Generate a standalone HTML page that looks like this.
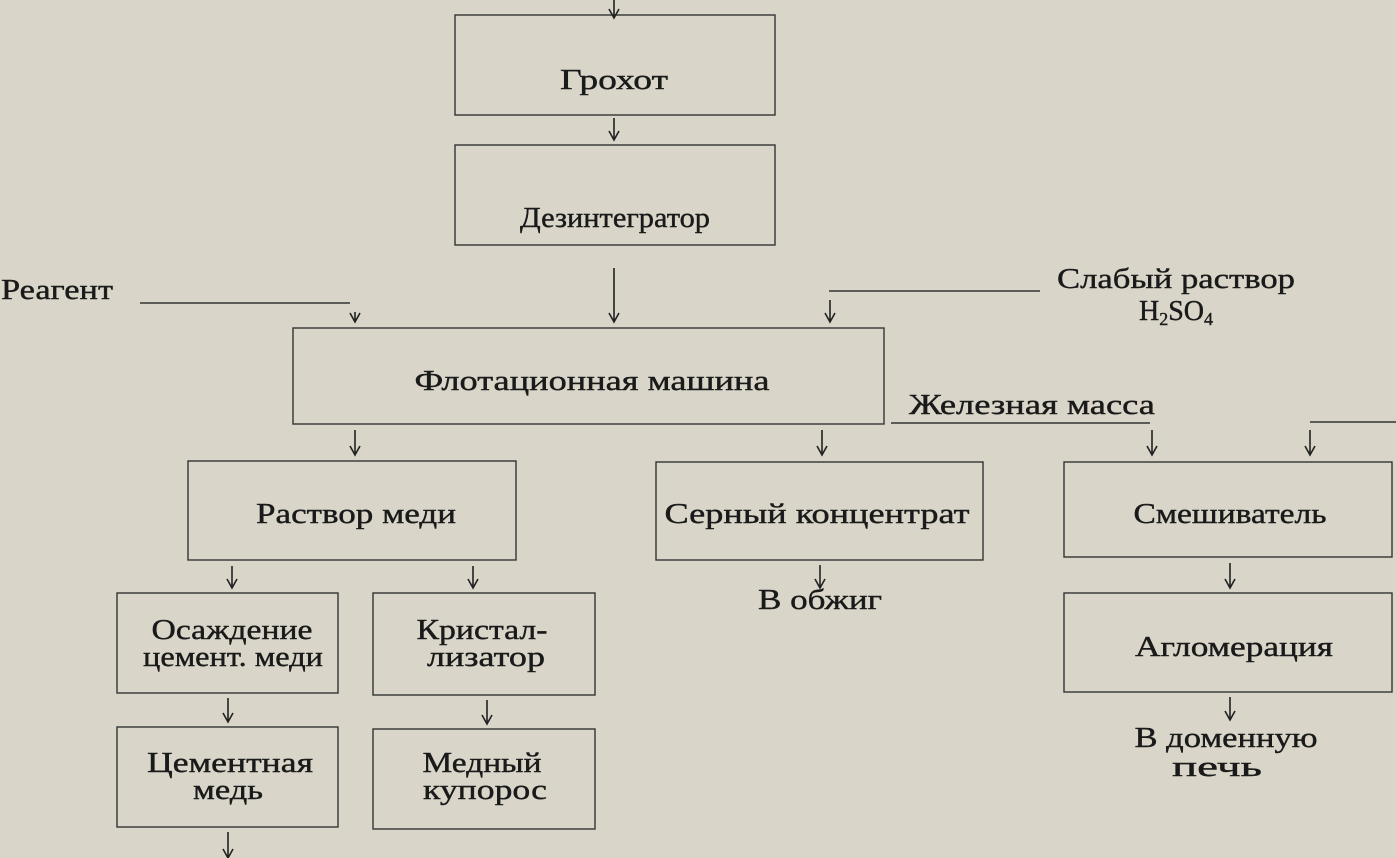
<!DOCTYPE html>
<html><head><meta charset="utf-8"><style>
html,body{margin:0;padding:0;background:#d9d6c9;}
svg{display:block}
text{font-family:"Liberation Serif",serif;font-size:28px;fill:#1a1a1a;stroke:#1a1a1a;stroke-width:0.4;text-anchor:middle}
</style></head><body>
<svg width="1396" height="858" viewBox="0 0 1396 858" xmlns="http://www.w3.org/2000/svg">
<rect width="1396" height="858" fill="#d9d6c9"/>
<g stroke="#333" stroke-width="1.4" fill="none">
<rect x="455" y="15" width="320" height="100"/>
<rect x="455" y="145" width="320" height="100"/>
<rect x="293" y="328" width="591" height="96"/>
<rect x="188" y="461" width="328" height="99"/>
<rect x="656" y="462" width="327" height="98"/>
<rect x="1064" y="462" width="328" height="95"/>
<rect x="1064" y="593" width="328" height="99"/>
<rect x="117" y="593" width="221" height="100"/>
<rect x="373" y="593" width="222" height="102"/>
<rect x="117" y="727" width="221" height="100"/>
<rect x="373" y="729" width="222" height="100"/>
<line x1="140" y1="303" x2="350" y2="303"/>
<line x1="829" y1="291" x2="1040" y2="291"/>
<line x1="891" y1="423" x2="1150" y2="423"/>
<line x1="1310" y1="422" x2="1396" y2="422"/>
</g>
<g stroke="#222" stroke-width="1.6" fill="none">
<path d="M614 0V18 M609 9L614 18L619 9"/>
<path d="M614 118V140 M609 131L614 140L619 131"/>
<path d="M355 312V322 M350 313L355 322L360 313"/>
<path d="M614 268V322 M609 313L614 322L619 313"/>
<path d="M830 300V322 M825 313L830 322L835 313"/>
<path d="M355 430V455 M350 446L355 455L360 446"/>
<path d="M822 430V455 M817 446L822 455L827 446"/>
<path d="M1152 430V455 M1147 446L1152 455L1157 446"/>
<path d="M1310 430V455 M1305 446L1310 455L1315 446"/>
<path d="M232 566V588 M227 579L232 588L237 579"/>
<path d="M473 566V588 M468 579L473 588L478 579"/>
<path d="M820 565V588 M815 579L820 588L825 579"/>
<path d="M1230 563V588 M1225 579L1230 588L1235 579"/>
<path d="M1230 697V720 M1225 711L1230 720L1235 711"/>
<path d="M228 698V722 M223 713L228 722L233 713"/>
<path d="M487 700V724 M482 715L487 724L492 715"/>
<path d="M228 832V858 M223 849L228 858L233 849"/>
</g>
<text x="614" y="89" textLength="108" lengthAdjust="spacingAndGlyphs">Грохот</text>
<text x="615" y="227" textLength="190" lengthAdjust="spacingAndGlyphs">Дезинтегратор</text>
<text x="57" y="299" textLength="112" lengthAdjust="spacingAndGlyphs">Реагент</text>
<text x="1176" y="288" textLength="238" lengthAdjust="spacingAndGlyphs">Слабый раствор</text>
<text x="1176" y="320">H<tspan font-size="18" dy="5">2</tspan><tspan dy="-5">SO</tspan><tspan font-size="18" dy="5">4</tspan></text>
<text x="592" y="390" textLength="355" lengthAdjust="spacingAndGlyphs">Флотационная машина</text>
<text x="1032" y="414" textLength="246" lengthAdjust="spacingAndGlyphs">Железная масса</text>
<text x="356" y="523" textLength="200" lengthAdjust="spacingAndGlyphs">Раствор меди</text>
<text x="817" y="523" textLength="305" lengthAdjust="spacingAndGlyphs">Серный концентрат</text>
<text x="1230" y="523" textLength="193" lengthAdjust="spacingAndGlyphs">Смешиватель</text>
<text x="820" y="609" textLength="124" lengthAdjust="spacingAndGlyphs">В обжиг</text>
<text x="1234" y="656" textLength="198" lengthAdjust="spacingAndGlyphs">Агломерация</text>
<text x="1226" y="747" textLength="183" lengthAdjust="spacingAndGlyphs">В доменную</text>
<text x="1217" y="776" textLength="90" lengthAdjust="spacingAndGlyphs">печь</text>
<text x="232" y="639" textLength="161" lengthAdjust="spacingAndGlyphs">Осаждение</text>
<text x="233" y="666" textLength="180" lengthAdjust="spacingAndGlyphs">цемент. меди</text>
<text x="482" y="639" textLength="131" lengthAdjust="spacingAndGlyphs">Кристал-</text>
<text x="486" y="666" textLength="118" lengthAdjust="spacingAndGlyphs">лизатор</text>
<text x="230" y="772" textLength="166" lengthAdjust="spacingAndGlyphs">Цементная</text>
<text x="228" y="799" textLength="70" lengthAdjust="spacingAndGlyphs">медь</text>
<text x="482" y="772" textLength="119" lengthAdjust="spacingAndGlyphs">Медный</text>
<text x="485" y="799" textLength="124" lengthAdjust="spacingAndGlyphs">купорос</text>
</svg>
</body></html>
